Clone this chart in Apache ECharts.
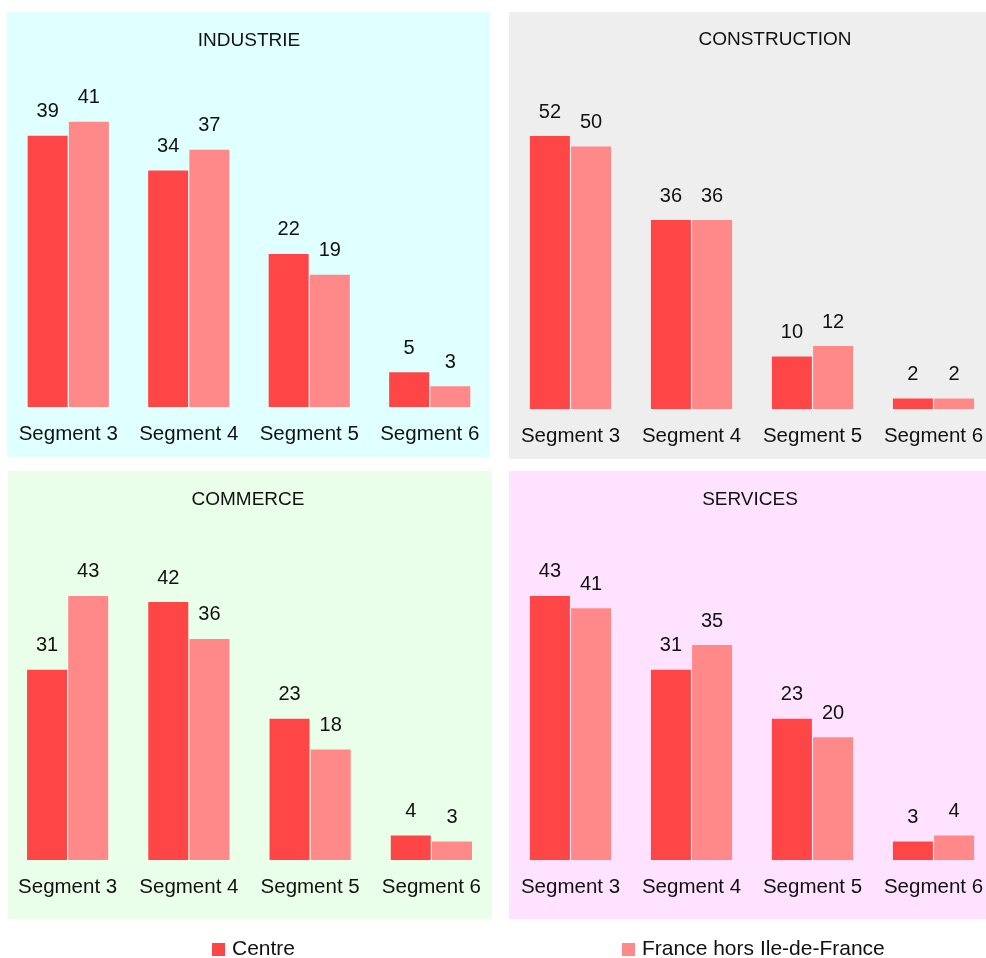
<!DOCTYPE html>
<html>
<head>
<meta charset="utf-8">
<script src="https://cdn.jsdelivr.net/npm/echarts@6/dist/echarts.min.js"></script>
<style>
  html, body { margin: 0; padding: 0; background: #ffffff; overflow: hidden; }
  #chart { width: 1040px; height: 958px; }
</style>
</head>
<body>
<div id="chart"></div>
<script>
// Categories shared by every sector panel
const segments = ['Segment 3', 'Segment 4', 'Segment 5', 'Segment 6'];

// Series names
const seriesNames = ['Centre', 'France hors Ile-de-France'];

// Sector titles
const sectors = ['INDUSTRIE', 'CONSTRUCTION', 'COMMERCE', 'SERVICES'];

// Values per sector (Centre / France hors Ile-de-France)
const industrieCentre = [39, 34, 22, 5];
const industrieFrance = [41, 37, 19, 3];
const constructionCentre = [52, 36, 10, 2];
const constructionFrance = [50, 36, 12, 2];
const commerceCentre = [31, 42, 23, 4];
const commerceFrance = [43, 36, 18, 3];
const servicesCentre = [43, 31, 23, 3];
const servicesFrance = [41, 35, 20, 4];

// Value axis upper bound per panel
const axisMax = [45, 60, 50, 50];

const centreValues = [industrieCentre, constructionCentre, commerceCentre, servicesCentre];
const franceValues = [industrieFrance, constructionFrance, commerceFrance, servicesFrance];

const FONT = '"Liberation Sans", Arial, Helvetica, sans-serif';
const COLOR_CENTRE = '#ff4646';
const COLOR_FRANCE = '#ff8989';

// Panel layout: background box, plotting grid and title anchor
const panels = [
  { bg: '#e0ffff', box: [7, 12, 483, 445], grid: { left: 8, top: 94, width: 482, height: 313 }, title: [249, 41] },
  { bg: '#eeeeee', box: [509, 12, 531, 447], grid: { left: 510, top: 94, width: 484, height: 315 }, title: [775, 40] },
  { bg: '#eaffea', box: [8, 471, 484, 448], grid: { left: 7, top: 553, width: 485, height: 307 }, title: [248, 500] },
  { bg: '#ffe2ff', box: [509, 471, 531, 448], grid: { left: 510, top: 553, width: 484, height: 307 }, title: [750, 500] }
];

const graphics = [];
panels.forEach((p, i) => {
  graphics.push({
    type: 'rect', z: -10, silent: true,
    shape: { x: p.box[0], y: p.box[1], width: p.box[2], height: p.box[3] },
    style: { fill: p.bg }
  });
  graphics.push({
    type: 'text', z: 10, silent: true,
    x: p.title[0], y: p.title[1],
    style: {
      text: sectors[i], font: '19px ' + FONT, fill: '#111111',
      align: 'center', verticalAlign: 'middle'
    }
  });
});

const grids = [], xAxes = [], yAxes = [], series = [];
panels.forEach((p, i) => {
  grids.push(Object.assign({ containLabel: false }, p.grid));
  xAxes.push({
    type: 'category', gridIndex: i, data: segments,
    axisLine: { show: false }, axisTick: { show: false },
    axisLabel: { color: '#111111', fontSize: 20.5, fontFamily: FONT, margin: 17, interval: 0 }
  });
  yAxes.push({
    type: 'value', gridIndex: i, min: 0, max: axisMax[i],
    show: false, splitLine: { show: false }
  });
  const label = {
    show: true, position: 'top', distance: 14,
    color: '#111111', fontSize: 20, fontFamily: FONT
  };
  series.push({
    name: seriesNames[0], type: 'bar', xAxisIndex: i, yAxisIndex: i,
    data: centreValues[i], barWidth: 40, barGap: '3%',
    itemStyle: { color: COLOR_CENTRE }, label: label
  });
  series.push({
    name: seriesNames[1], type: 'bar', xAxisIndex: i, yAxisIndex: i,
    data: franceValues[i], barWidth: 40, barGap: '3%',
    itemStyle: { color: COLOR_FRANCE }, label: label
  });
});

const legendText = { color: '#111111', fontSize: 21, fontFamily: FONT, padding: [0, 0, 0, 2] };

const chart = echarts.init(document.getElementById('chart'), null, { renderer: 'canvas' });
chart.setOption({
  animation: false,
  backgroundColor: '#ffffff',
  color: [COLOR_CENTRE, COLOR_FRANCE],
  graphic: graphics,
  grid: grids,
  xAxis: xAxes,
  yAxis: yAxes,
  legend: [
    { data: [seriesNames[0]], left: 207, top: 934, icon: 'rect', itemWidth: 13, itemHeight: 13, textStyle: legendText, selectedMode: false },
    { data: [seriesNames[1]], left: 617, top: 934, icon: 'rect', itemWidth: 13, itemHeight: 13, textStyle: legendText, selectedMode: false }
  ],
  series: series
});
</script>
</body>
</html>
